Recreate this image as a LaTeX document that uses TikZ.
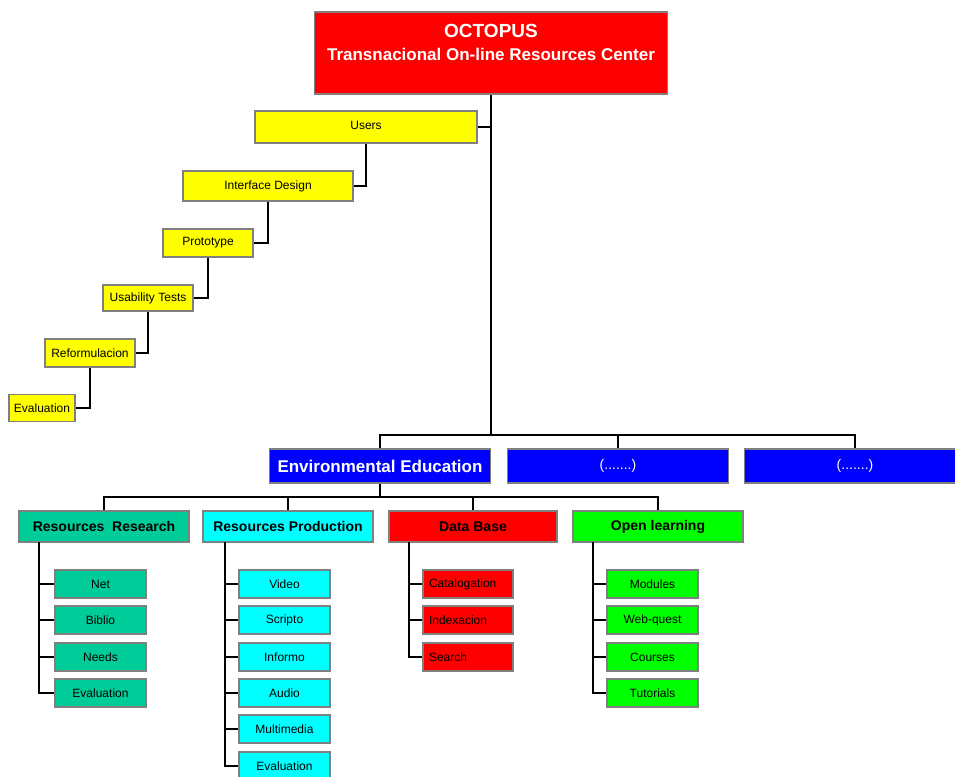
\documentclass[tikz,border=0pt]{standalone}
\usepackage{fontspec}
\setmainfont{Liberation Sans}
\definecolor{bordergray}{RGB}{128,128,128}
\definecolor{teal2}{RGB}{0,204,153}
\definecolor{cyan2}{RGB}{0,255,255}
\definecolor{red2}{RGB}{255,0,0}
\definecolor{green2}{RGB}{0,255,0}
\definecolor{yellow2}{RGB}{255,255,0}
\definecolor{blue2}{RGB}{0,0,255}
\tikzset{
  box/.style={draw=bordergray, line width=1.6pt, inner sep=0pt, align=center},
  small/.style={box, font=\fontsize{12}{14}\selectfont, text=black},
  yel/.style={small, fill=yellow2},
  head/.style={box, font=\fontsize{14}{16}\selectfont\bfseries, minimum width=170pt, minimum height=31pt},
  blu/.style={box, fill=blue2, text=white, minimum width=221pt, minimum height=34pt},
  kid/.style={small, minimum width=91pt, minimum height=28pt},
  conn/.style={draw=black, line width=2pt},
}
\begin{document}
\begin{tikzpicture}[x=1pt,y=-1pt]
\useasboundingbox (0,0) rectangle (955,776);
\clip (0,0) rectangle (955,776);
% top
\node[box, fill=red2, minimum width=353pt, minimum height=82pt] (top) at (491,53) {};
\node[text=white, align=center, inner sep=0pt, font=\fontsize{17}{23}\selectfont\bfseries] (toptext) at (491,42)
  {{\fontsize{19}{23}\selectfont OCTOPUS}\\Transnacional On-line Resources Center};
% yellow chain
\node[yel, minimum width=222pt, minimum height=32pt] (users) at (366,127) {\raisebox{4pt}{Users}};
\node[yel, minimum width=170pt, minimum height=30pt] (idesign) at (268,186) {Interface Design};
\node[yel, minimum width=90pt, minimum height=28pt] (proto) at (208,243) {Prototype};
\node[yel, minimum width=90pt, minimum height=26pt] (usab) at (148,298) {Usability Tests};
\node[yel, minimum width=90pt, minimum height=28pt] (reform) at (90,353) {Reformulacion};
\node[yel, minimum width=66pt, minimum height=27pt] (evaly) at (42,408) {Evaluation};
\coordinate (bus1) at (491,435);
\draw[conn] (top.south) -- (bus1);
\draw[conn] (users.east) -- (users.east -| bus1);
\draw[conn] (users.south) |- (idesign.east);
\draw[conn] (idesign.south) |- (proto.east);
\draw[conn] (proto.south) |- (usab.east);
\draw[conn] (usab.south) |- (reform.east);
\draw[conn] (reform.south) |- (evaly.east);
% blue level
\node[blu, font=\fontsize{17}{20}\selectfont\bfseries] (env) at (380,466) {Environmental Education};
\node[blu, font=\fontsize{14}{16}\selectfont] (dots1) at (618,466) {(.......)};
\node[blu, font=\fontsize{14}{16}\selectfont] (dots2) at (855,466) {(.......)};
\draw[conn] (env.north) |- (bus1) -| (dots2.north);
\draw[conn] (dots1.north) -- (dots1.north |- bus1);
% heads
\node[head, fill=teal2] (rr) at (104,526.5) {Resources\ \ Research};
\node[head, fill=cyan2] (rp) at (288,526.5) {Resources Production};
\node[head, fill=red2, minimum width=168pt] (db) at (473,526.5) {Data Base};
\node[head, fill=green2] (ol) at (658,526.5) {Open learning};
\coordinate (bus2) at (380,497);
\draw[conn] (env.south) -- (bus2);
\draw[conn] (rr.north) |- (bus2) -| (ol.north);
\draw[conn] (rp.north) -- (rp.north |- bus2);
\draw[conn] (db.north) -- (db.north |- bus2);
% children
\node[kid, fill=teal2] (net) at (100.5,584) {Net};
\node[kid, fill=teal2] (biblio) at (100.5,620) {Biblio};
\node[kid, fill=teal2] (needs) at (100.5,657) {Needs};
\node[kid, fill=teal2] (evalr) at (100.5,693) {Evaluation};
\node[kid, fill=cyan2] (video) at (284.5,584) {Video};
\node[kid, fill=cyan2] (scripto) at (284.5,620) {Scripto};
\node[kid, fill=cyan2] (informo) at (284.5,657) {Informo};
\node[kid, fill=cyan2] (audio) at (284.5,693) {Audio};
\node[kid, fill=cyan2] (multi) at (284.5,729) {Multimedia};
\node[kid, fill=cyan2] (evalp) at (284.5,766) {Evaluation};
\node[kid, fill=red2, minimum width=90pt] (catal) at (468,584) {\makebox[78pt][l]{Catalogation}};
\node[kid, fill=red2, minimum width=90pt] (index) at (468,620) {\makebox[78pt][l]{Indexacion}};
\node[kid, fill=red2, minimum width=90pt] (search) at (468,657) {\makebox[78pt][l]{Search}};
\node[kid, fill=green2] (modules) at (652.5,584) {Modules};
\node[kid, fill=green2] (webq) at (652.5,620) {Web-quest};
\node[kid, fill=green2] (courses) at (652.5,657) {Courses};
\node[kid, fill=green2] (tutor) at (652.5,693) {Tutorials};
\coordinate (rrt) at (39,542);
\coordinate (rpt) at (225,542);
\coordinate (dbt) at (409,542);
\coordinate (olt) at (593,542);
\draw[conn] (rrt) |- (evalr.west);
\draw[conn] (rrt |- net.west) -- (net.west);
\draw[conn] (rrt |- biblio.west) -- (biblio.west);
\draw[conn] (rrt |- needs.west) -- (needs.west);
\draw[conn] (rpt) |- (evalp.west);
\draw[conn] (rpt |- video.west) -- (video.west);
\draw[conn] (rpt |- scripto.west) -- (scripto.west);
\draw[conn] (rpt |- informo.west) -- (informo.west);
\draw[conn] (rpt |- audio.west) -- (audio.west);
\draw[conn] (rpt |- multi.west) -- (multi.west);
\draw[conn] (dbt) |- (search.west);
\draw[conn] (dbt |- catal.west) -- (catal.west);
\draw[conn] (dbt |- index.west) -- (index.west);
\draw[conn] (olt) |- (tutor.west);
\draw[conn] (olt |- modules.west) -- (modules.west);
\draw[conn] (olt |- webq.west) -- (webq.west);
\draw[conn] (olt |- courses.west) -- (courses.west);
\end{tikzpicture}
\end{document}
